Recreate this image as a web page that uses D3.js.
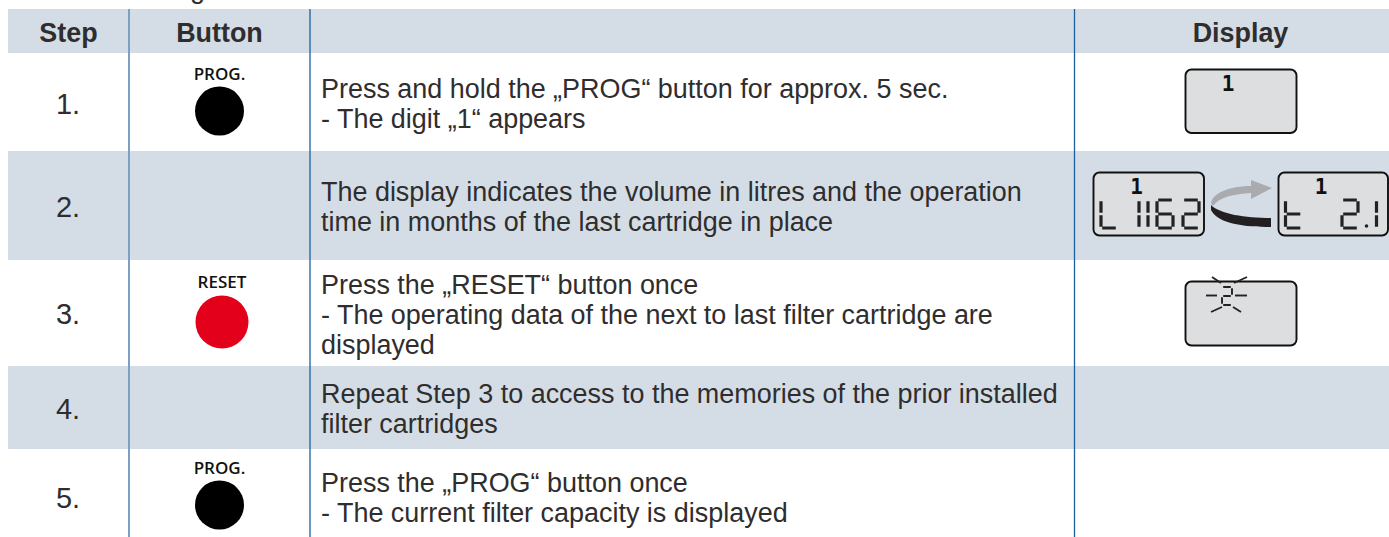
<!DOCTYPE html>
<html>
<head>
<meta charset="utf-8">
<script src="https://cdn.jsdelivr.net/npm/d3@7"></script>
<style>
html, body { margin: 0; padding: 0; background: #fff; overflow: hidden; }
text { font-family: "Liberation Sans", Arial, sans-serif; fill: #2f2d2e; }
</style>
</head>
<body>
<div id="steps-table"></div>
<script>
var steps = ['1.', '2.', '3.', '4.', '5.'];
var headers = ['Step', 'Button', 'Display'];
var buttons = ['PROG.', null, 'RESET', null, 'PROG.'];
var descriptions = [
    ['Press and hold the „PROG“ button for approx. 5 sec.', '- The digit „1“ appears'],
    ['The display indicates the volume in litres and the operation', 'time in months of the last cartridge in place'],
    ['Press the „RESET“ button once', '- The operating data of the next to last filter cartridge are', 'displayed'],
    ['Repeat Step 3 to access to the memories of the prior installed', 'filter cartridges'],
    ['Press the „PROG“ button once', '- The current filter capacity is displayed']
];

var width = 1389, height = 537;
var rowEdges = [9, 53, 151, 260, 366, 449, 537];
var firstBaseline = [97.5, 200.5, 293.5, 402.5, 491.5];
var stepBaseline = [113.5, 216.5, 323.5, 418.5, 507.5];

var svg = d3.select('#steps-table').append('svg')
    .attr('width', width)
    .attr('height', height)
    .style('display', 'block');

// shaded bands: header, then rows 2 and 4
[0, 2, 4].forEach(i => {
    svg.append('rect')
        .attr('x', 8)
        .attr('y', rowEdges[i])
        .attr('width', width - 8)
        .attr('height', rowEdges[i + 1] - rowEdges[i])
        .attr('fill', '#d4dde5');
});

// end of the sentence above the table, cut off by the page top
svg.append('text').attr('x', 190).attr('y', -2).attr('font-size', 27).text('g');

// column rules
[[129, '#7ba0c4', 2], [310, '#1c5f9e', 1.3], [1074.5, '#1c5f9e', 1.3]].forEach(r => {
    svg.append('line')
        .attr('x1', r[0]).attr('x2', r[0])
        .attr('y1', 9).attr('y2', height)
        .attr('stroke', r[1])
        .attr('stroke-width', r[2]);
});

svg.selectAll('.head')
    .data(headers)
    .enter()
    .append('text')
    .attr('class', 'head')
    .attr('x', (d, i) => [68.5, 219.5, 1240.5][i])
    .attr('y', 41.5)
    .attr('text-anchor', 'middle')
    .attr('font-size', 26.9)
    .attr('font-weight', 'bold')
    .text(d => d);

svg.selectAll('.step')
    .data(steps)
    .enter()
    .append('text')
    .attr('class', 'step')
    .attr('x', 68)
    .attr('y', (d, i) => stepBaseline[i])
    .attr('text-anchor', 'middle')
    .attr('font-size', 29)
    .text(d => d);

descriptions.forEach((lines, i) => {
    svg.selectAll('.desc' + i)
        .data(lines)
        .enter()
        .append('text')
        .attr('class', 'desc' + i)
        .attr('x', 321)
        .attr('y', (d, j) => firstBaseline[i] + j * 30)
        .attr('font-size', 26.94)
        .text(d => d);
});

// buttons
var buttonPos = {0: [219.5, 111, 24.5, 80], 2: [222, 322, 26.5, 288], 4: [219.5, 505, 24.5, 474]};
buttons.forEach((b, i) => {
    if (!b) return;
    var p = buttonPos[i];
    svg.append('circle')
        .attr('cx', p[0]).attr('cy', p[1]).attr('r', p[2])
        .attr('fill', b === 'RESET' ? '#e2001a' : '#000');
    svg.append('text')
        .attr('x', p[0]).attr('y', p[3])
        .attr('text-anchor', 'middle')
        .attr('font-size', 17)
        .attr('font-weight', 600)
        .style('font-family', '"Open Sans"')
        .style('fill', '#111')
        .text(b);
});

// seven segment glyphs used by the LCD
var segmentMap = {
    'L': 'efd', '1': 'ef', '6': 'afedcg', '2': 'abged', 't': 'efgd'
};
var lcdLeft = [['L', 1101], ['1', 1139], ['1', 1148], ['6', 1157], ['2', 1183]];
var lcdRight = [['t', 1285.5], ['2', 1342], ['1', 1376.5]];

function segmentPath(ch, x, top, w, h) {
    var g = 1.2, mid = top + h / 2, bot = top + h, r = x + w;
    var segs = {
        a: [[x + g, top], [r - g, top]],
        b: [[r, top + g], [r, mid - g]],
        c: [[r, mid + g], [r, bot - g]],
        d: [[x + g, bot], [r - g, bot]],
        e: [[x, mid + g], [x, bot - g]],
        f: [[x, top + g], [x, mid - g]],
        g: [[x + g, mid], [r - g, mid]]
    };
    return segmentMap[ch].split('').map(s => d3.line()(segs[s])).join('');
}

function drawDisplay(x, y, w, h, label, labelX, glyphs) {
    svg.append('rect')
        .attr('x', x).attr('y', y).attr('width', w).attr('height', h)
        .attr('rx', 6)
        .attr('fill', '#dcdee0')
        .attr('stroke', '#111')
        .attr('stroke-width', 1.9);
    if (label) {
        svg.append('text')
            .attr('x', labelX).attr('y', y + 21)
            .attr('text-anchor', 'middle')
            .attr('font-size', 21)
            .attr('font-weight', 'bold')
            .style('font-family', '"DejaVu Sans Mono"')
            .style('fill', '#111')
            .text(label);
    }
    (glyphs || []).forEach(g => {
        svg.append('path')
            .attr('d', segmentPath(g[0], g[1], y + 27.5, 16, 28))
            .attr('fill', 'none')
            .attr('stroke', '#222')
            .attr('stroke-width', 3.2);
    });
}

drawDisplay(1185.5, 69.5, 111, 63.5, '1', 1228);
drawDisplay(1093.5, 172.5, 110.5, 63, '1', 1136.5, lcdLeft);
drawDisplay(1278.5, 172.5, 109.5, 63, '1', 1321, lcdRight);
svg.append('circle').attr('cx', 1366.5).attr('cy', 226).attr('r', 1.8).attr('fill', '#222');

// arrow between the two displays
svg.append('path')
    .attr('d', 'M1211,203 C1213,192 1232,186 1251,186 L1251,180 L1272,188 L1251,199 L1251,193 C1234,194 1219,197 1213,206 Z')
    .attr('fill', '#a9abae');
svg.append('path')
    .attr('d', 'M1211,205 C1220,214 1245,218 1271,218 L1271,227 C1245,227 1218,224 1211,210 Z')
    .attr('fill', '#231f20');

// blinking 2
drawDisplay(1185.5, 281.5, 111, 64, null);
svg.append('path')
    .attr('d', segmentPath('2', 1222, 287, 10, 18))
    .attr('fill', 'none').attr('stroke', '#222').attr('stroke-width', 1.9);
var rays = [[1212, 277, 1221, 283], [1234, 283, 1247, 277], [1206, 295.5, 1217, 295.5], [1235, 295.5, 1247, 295.5], [1211, 312, 1222, 307], [1233, 307, 1241, 312]];
svg.selectAll('.ray')
    .data(rays)
    .enter()
    .append('line')
    .attr('class', 'ray')
    .attr('x1', d => d[0]).attr('y1', d => d[1])
    .attr('x2', d => d[2]).attr('y2', d => d[3])
    .attr('stroke', '#222')
    .attr('stroke-width', 1.9);
</script>
</body>
</html>
